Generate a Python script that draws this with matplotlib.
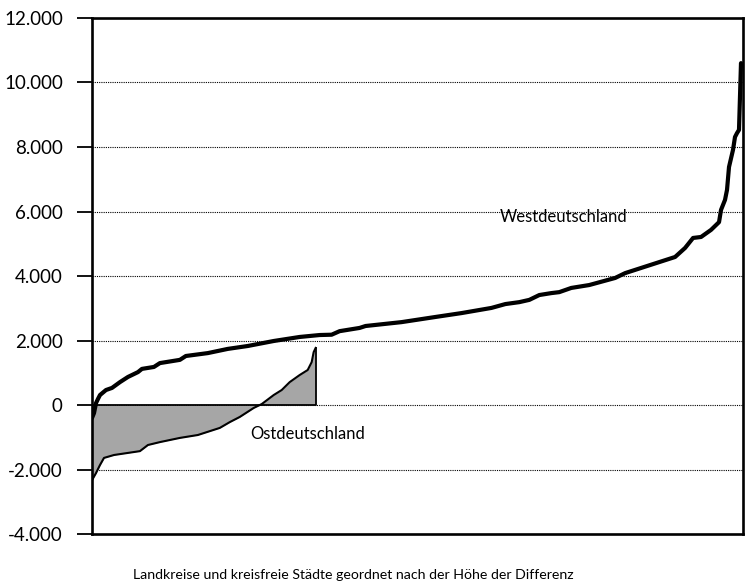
import matplotlib.pyplot as plt
import matplotlib.ticker as mticker

# Westdeutschland: Rang des Kreises und Differenz
west_rang = [0, 1, 2, 3, 4, 7, 10, 14, 18, 23, 25, 31, 34, 44, 47, 58, 68, 78, 91,
             104, 114, 120, 124, 134, 137, 155, 172, 185, 200, 207, 214, 219, 224,
             230, 234, 240, 249, 262, 267, 275, 284, 292, 297, 301, 305, 310, 314,
             315, 317, 318, 319, 321, 322, 323, 324, 325]
west_wert = [-400, -250, 60, 190, 310, 465, 530, 710, 870, 1020, 1120, 1180, 1300,
             1400, 1520, 1610, 1740, 1830, 1985, 2110, 2170, 2180, 2290, 2390, 2450,
             2570, 2730, 2850, 3010, 3130, 3190, 3260, 3410, 3470, 3500, 3630, 3720,
             3940, 4090, 4250, 4430, 4590, 4870, 5180, 5210, 5430, 5670, 6050, 6360,
             6670, 7380, 7910, 8310, 8430, 8530, 10600]

# Ostdeutschland
ost_rang = [0, 2, 4, 6, 11, 24, 28, 34, 44, 53, 64, 69, 74, 81, 85, 91, 95, 99,
            104, 108, 110, 111, 112]
ost_wert = [-2330, -2110, -1860, -1640, -1550, -1430, -1240, -1150, -1020, -930,
            -710, -530, -370, -90, 30, 310, 465, 710, 930, 1085, 1330, 1640, 1770]

y_ticks = [-4000, -2000, 0, 2000, 4000, 6000, 8000, 10000, 12000]

plt.rcParams['font.family'] = ['Lato', 'DejaVu Sans']

fig = plt.figure(figsize=(7.53, 5.88), dpi=100)
ax = fig.add_axes([0.1222, 0.0918, 0.8645, 0.8776])

# Ostdeutschland als graue Fläche
ax.fill_between(ost_rang, ost_wert, 0, color='#a6a6a6', linewidth=0, zorder=2)
ax.plot(ost_rang, ost_wert, color='black', linewidth=1.5, zorder=3)
ax.plot([0, ost_rang[-1], ost_rang[-1]], [0, 0, ost_wert[-1]], color='black',
        linewidth=1.3, zorder=3)

# Westdeutschland als dicke Linie
ax.plot(west_rang, west_wert, color='black', linewidth=3.0, zorder=4,
        solid_joinstyle='round', solid_capstyle='round')

ax.text(204, 5830, 'Westdeutschland', fontsize=12, va='center', ha='left')
ax.text(79, -900, 'Ostdeutschland', fontsize=12, va='center', ha='left')

ax.set_xlim(0, 326)
ax.set_ylim(-4000, 12000)
ax.set_yticks(y_ticks)
ax.yaxis.set_major_formatter(mticker.FuncFormatter(lambda v, p: f'{int(v):,}'.replace(',', '.')))
ax.set_xticks([])
ax.tick_params(axis='y', direction='out', length=11, width=1.3, pad=10, labelsize=13.5)

for s in ax.spines.values():
    s.set_linewidth(1.9)

for v in y_ticks[1:-1]:
    ax.axhline(v, color='black', linestyle=(0, (1, 1)), linewidth=0.8, zorder=1)

fig.text(353 / 753, 1 - 575 / 588,
         'Landkreise und kreisfreie Städte geordnet nach der Höhe der Differenz',
         fontsize=10.2, ha='center', va='center')

fig.savefig('out.png', dpi=100)
